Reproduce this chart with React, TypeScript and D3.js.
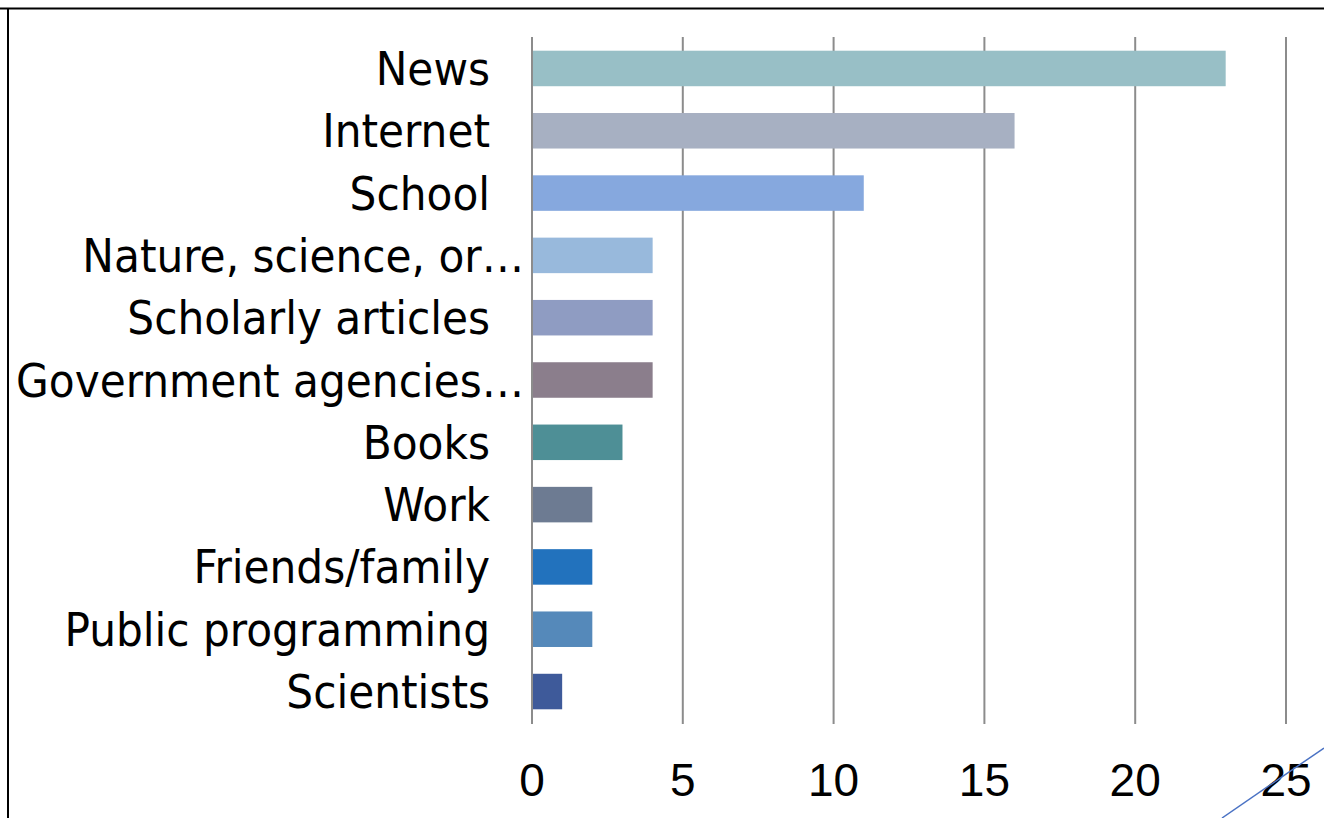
import React from "react";
import * as d3 from "d3";

const categories = [
  "News",
  "Internet",
  "School",
  "Nature, science, or…",
  "Scholarly articles",
  "Government agencies…",
  "Books",
  "Work",
  "Friends/family",
  "Public programming",
  "Scientists",
];
const values = [23, 16, 11, 4, 4, 4, 3, 2, 2, 2, 1];
const colors = [
  "#98BFC6",
  "#A7B0C2",
  "#86A8DE",
  "#98B9DC",
  "#8F9CC2",
  "#8B7E8C",
  "#4E8F96",
  "#6D7B92",
  "#2272BD",
  "#5589BA",
  "#3E5A9A",
];
const ticks = [0, 5, 10, 15, 20, 25];

const W = 1324;
const H = 818;

export default function App() {
  const x = d3.scaleLinear().domain([0, 25]).range([532, 1286]);
  const y = d3
    .scaleBand<string>()
    .domain(categories)
    .range([37, 723])
    .paddingInner(0.43)
    .paddingOuter(0.22);

  return (
    <svg
      width={W}
      height={H}
      style={{ position: "absolute", left: 0, top: 0, background: "#fff" }}
    >
      <rect x={0} y={0} width={W} height={H} fill="#fff" />
      {/* frame */}
      <line x1={0} x2={W} y1={8.5} y2={8.5} stroke="#000" strokeWidth={2} />
      <line x1={8} x2={8} y1={8} y2={H} stroke="#000" strokeWidth={2} />
      {/* gridlines */}
      {ticks.map((t) => (
        <line
          key={t}
          x1={x(t)}
          x2={x(t)}
          y1={37}
          y2={724}
          stroke="#8C8C8C"
          strokeWidth={2}
        />
      ))}
      {/* bars */}
      {categories.map((c, i) => (
        <rect
          key={c}
          x={x(0) + 1}
          y={y(c)}
          width={x(values[i]) - x(0) - 1}
          height={y.bandwidth()}
          fill={colors[i]}
        />
      ))}
      {/* category labels */}
      {categories.map((c) => (
        <text
          key={c}
          x={c.endsWith("…") ? 524 : 490}
          y={(y(c) as number) + y.bandwidth() / 2}
          textAnchor="end"
          dominantBaseline="central"
          fontFamily="'DejaVu Sans Condensed', 'DejaVu Sans', sans-serif"
          fontSize={47}
          fill="#000"
        >
          {c}
        </text>
      ))}
      {/* tick labels */}
      {ticks.map((t) => (
        <text
          key={t}
          x={x(t)}
          y={780}
          textAnchor="middle"
          dominantBaseline="central"
          fontFamily="'Liberation Sans', Arial, sans-serif"
          fontSize={46}
          fill="#000"
        >
          {t}
        </text>
      ))}
      {/* decorative line */}
      <line x1={1222} y1={818} x2={1324} y2={748} stroke="#4A72C4" strokeWidth={1.5} />
    </svg>
  );
}
